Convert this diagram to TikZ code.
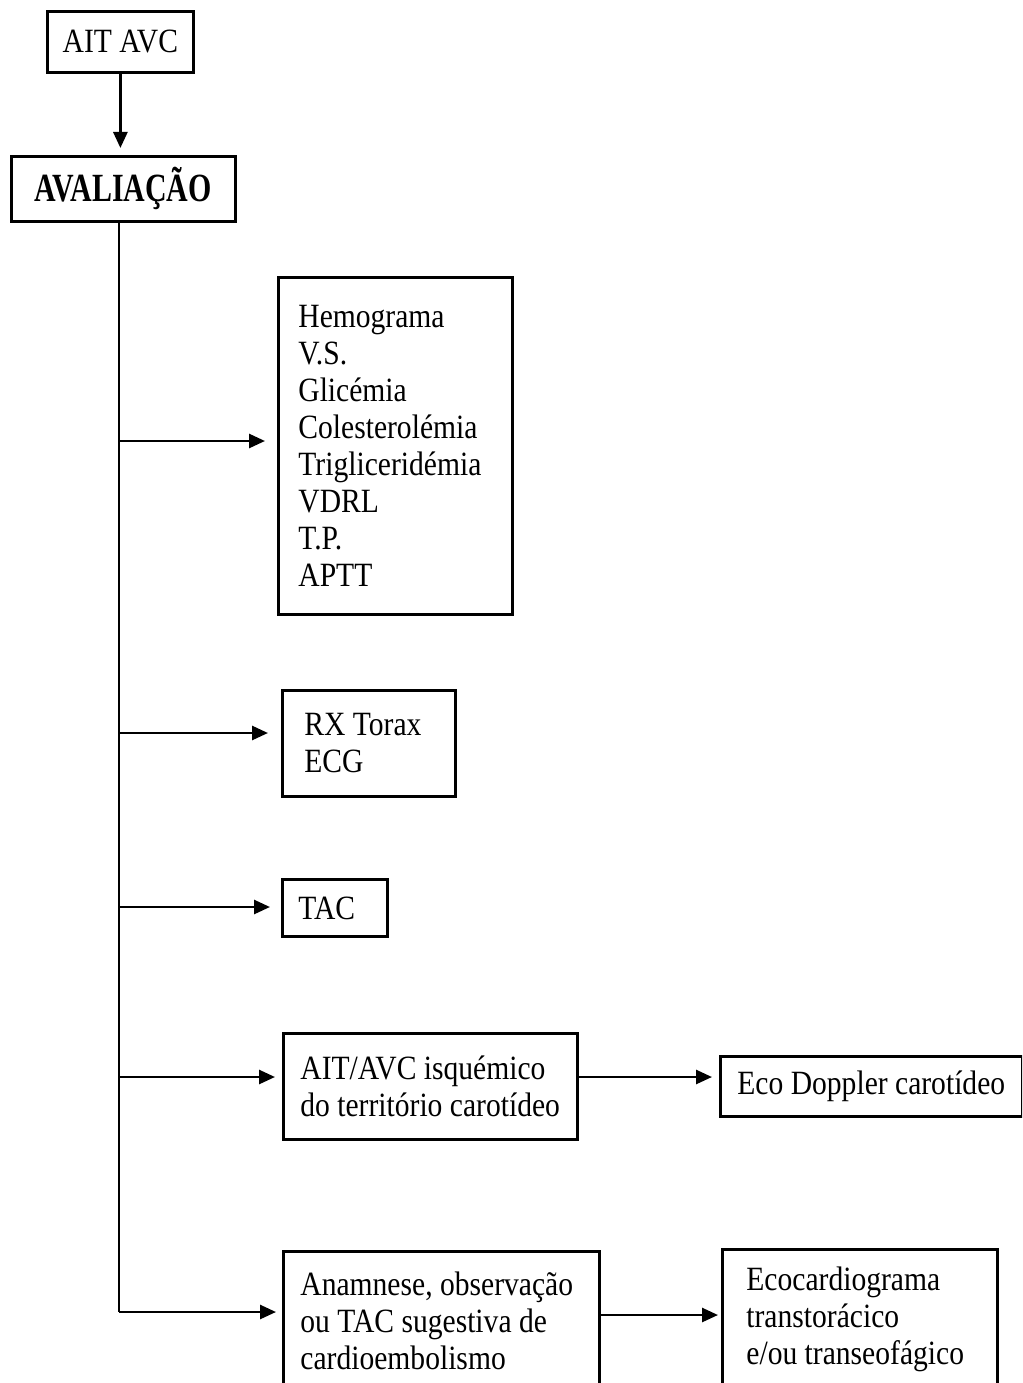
\documentclass[tikz,border=0pt]{standalone}
\usepackage{graphicx}
\usepackage{fontspec}
\setmainfont{Liberation Serif}[FakeStretch=0.87]
\usetikzlibrary{arrows.meta}
\begin{document}
\begin{tikzpicture}[x=1pt,y=-1pt,
  every node/.style={font=\fontsize{34}{37}\selectfont,
    execute at begin node={\spaceskip=0pt\xspaceskip=0pt}},
  box/.style={draw,line width=2.8pt,anchor=north west,align=left,inner ysep=0pt},
  ctrbox/.style={draw,line width=2.8pt,anchor=north west,align=center,inner sep=0pt},
  link/.style={line width=2.7pt},
  arr/.style={line width=2.7pt,-{Triangle[length=16pt,width=14pt]}}]
\clip (0,0) rectangle (1022,1383);
\useasboundingbox (0,0) rectangle (1022,1383);

% top of the chart
\node[ctrbox,minimum width=146pt,minimum height=61pt] (ait) at (46,10) {\mbox{AIT AVC}};
\node[ctrbox,minimum width=224pt,minimum height=65pt] (aval) at (10,155)
  {\scalebox{0.86}[1]{\fontsize{40}{40}\selectfont\bfseries AVALIAÇÃO}};

% examinations (each line kept whole in an \mbox)
\node[box,inner xsep=20pt,text width=194pt,minimum height=337pt] (lab) at (277,276)
  {Hemograma\\V.S.\\Glicémia\\Colesterolémia\\Trigliceridémia\\VDRL\\T.P.\\APTT};
\node[box,inner xsep=22pt,text width=129pt,minimum height=106pt] (rx) at (281,689)
  {\mbox{RX Torax}\\ECG};
\node[box,inner xsep=16pt,text width=73pt,minimum height=57pt] (tac) at (281,878)
  {TAC};
\node[box,inner xsep=17pt,text width=260pt,minimum height=106pt] (isq) at (282,1032)
  {\mbox{AIT/AVC isquémico}\\\mbox{do território carotídeo}};
\node[box,inner xsep=17pt,text width=268pt,minimum height=60pt] (eco) at (719,1055)
  {\mbox{Eco Doppler carotídeo}};
\node[box,inner xsep=17pt,text width=282pt,minimum height=138pt] (anam) at (282,1250)
  {\mbox{Anamnese, observação}\\\mbox{ou TAC sugestiva de}\\cardioembolismo};
\node[box,inner xsep=24pt,text width=227pt,minimum height=140pt] (card) at (721,1248)
  {Ecocardiograma\\transtorácico\\\mbox{e/ou transeofágico}};

% branch points on the trunk
\coordinate (j1) at (119,441);
\coordinate (j2) at (119,733);
\coordinate (j3) at (119,907);
\coordinate (j4) at (119,1077);
\coordinate (j5) at (119,1312);
\coordinate (j6) at (0,1315);

\draw[arr,shorten >=7pt] (ait.south) -- (ait.south |- aval.north);
\draw[link] (j1 |- aval.south) -- (j5);
\draw[arr,shorten >=12pt] (j1) -- (j1 -| lab.west);
\draw[arr,shorten >=13pt] (j2) -- (j2 -| rx.west);
\draw[arr,shorten >=11pt] (j3) -- (j3 -| tac.west);
\draw[arr,shorten >=7pt] (j4) -- (j4 -| isq.west);
\draw[arr,shorten >=6pt] (j5) -- (j5 -| anam.west);
\draw[arr,shorten >=7pt] (j4 -| isq.east) -- (j4 -| eco.west);
\draw[arr,shorten >=3pt] (j6 -| anam.east) -- (j6 -| card.west);
\end{tikzpicture}
\end{document}
